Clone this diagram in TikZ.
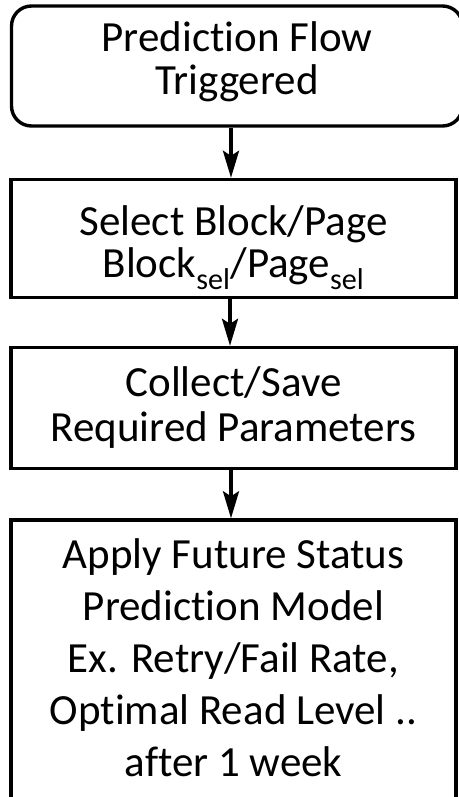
\documentclass[tikz,border=0pt]{standalone}
\usepackage{fontspec}
\setmainfont[RawFeature=-liga]{Carlito}
\usetikzlibrary{arrows.meta}
\begin{document}
\begin{tikzpicture}[x=1pt,y=-1pt,
  flowbox/.style={draw=black, line width=3.4pt, fill=white, inner sep=0pt},
  flowtext/.style={align=center, inner sep=0pt, font=\fontsize{43}{#1}\selectfont},
  flowarrow/.style={line width=3.4pt,
    -{Stealth[length=27pt,width=16pt,inset=5pt]}}]
  \useasboundingbox (0,0) rectangle (458,797);

  % first step: rounded start box, running off the right edge
  \node[flowbox, rounded corners=20pt, minimum width=451pt, minimum height=120pt,
        label={[flowtext=43, yshift=4pt]center:Prediction Flow\\Triggered}]
    (trig) at (237,66) {};

  \node[flowbox, minimum width=445pt, minimum height=118pt,
        label={[flowtext=42, yshift=-9pt]center:Select Block/Page\\Block\textsubscript{sel}/Page\textsubscript{sel}}]
    (sel) at (233.5,238.5) {};

  \node[flowbox, minimum width=445pt, minimum height=121pt,
        label={[flowtext=45]center:Collect/Save\\Required Parameters}]
    (coll) at (233.5,408) {};

  % last step: tall box, its bottom edge below the page
  \node[flowbox, minimum width=445pt, minimum height=284pt,
        label={[flowtext=52, yshift=4pt]center:Apply Future Status\\Prediction Model\\Ex. Retry/Fail Rate,\\Optimal Read Level ..\\after 1 week}]
    (apply) at (233.5,662) {};

  \draw[flowarrow] (trig.south -| 231,0) -- (sel.north -| 231,0);
  \draw[flowarrow] (sel.south -| 230,0) -- (coll.north -| 230,0);
  \draw[flowarrow] (coll.south -| 231,0) -- (apply.north -| 231,0);
\end{tikzpicture}
\end{document}
